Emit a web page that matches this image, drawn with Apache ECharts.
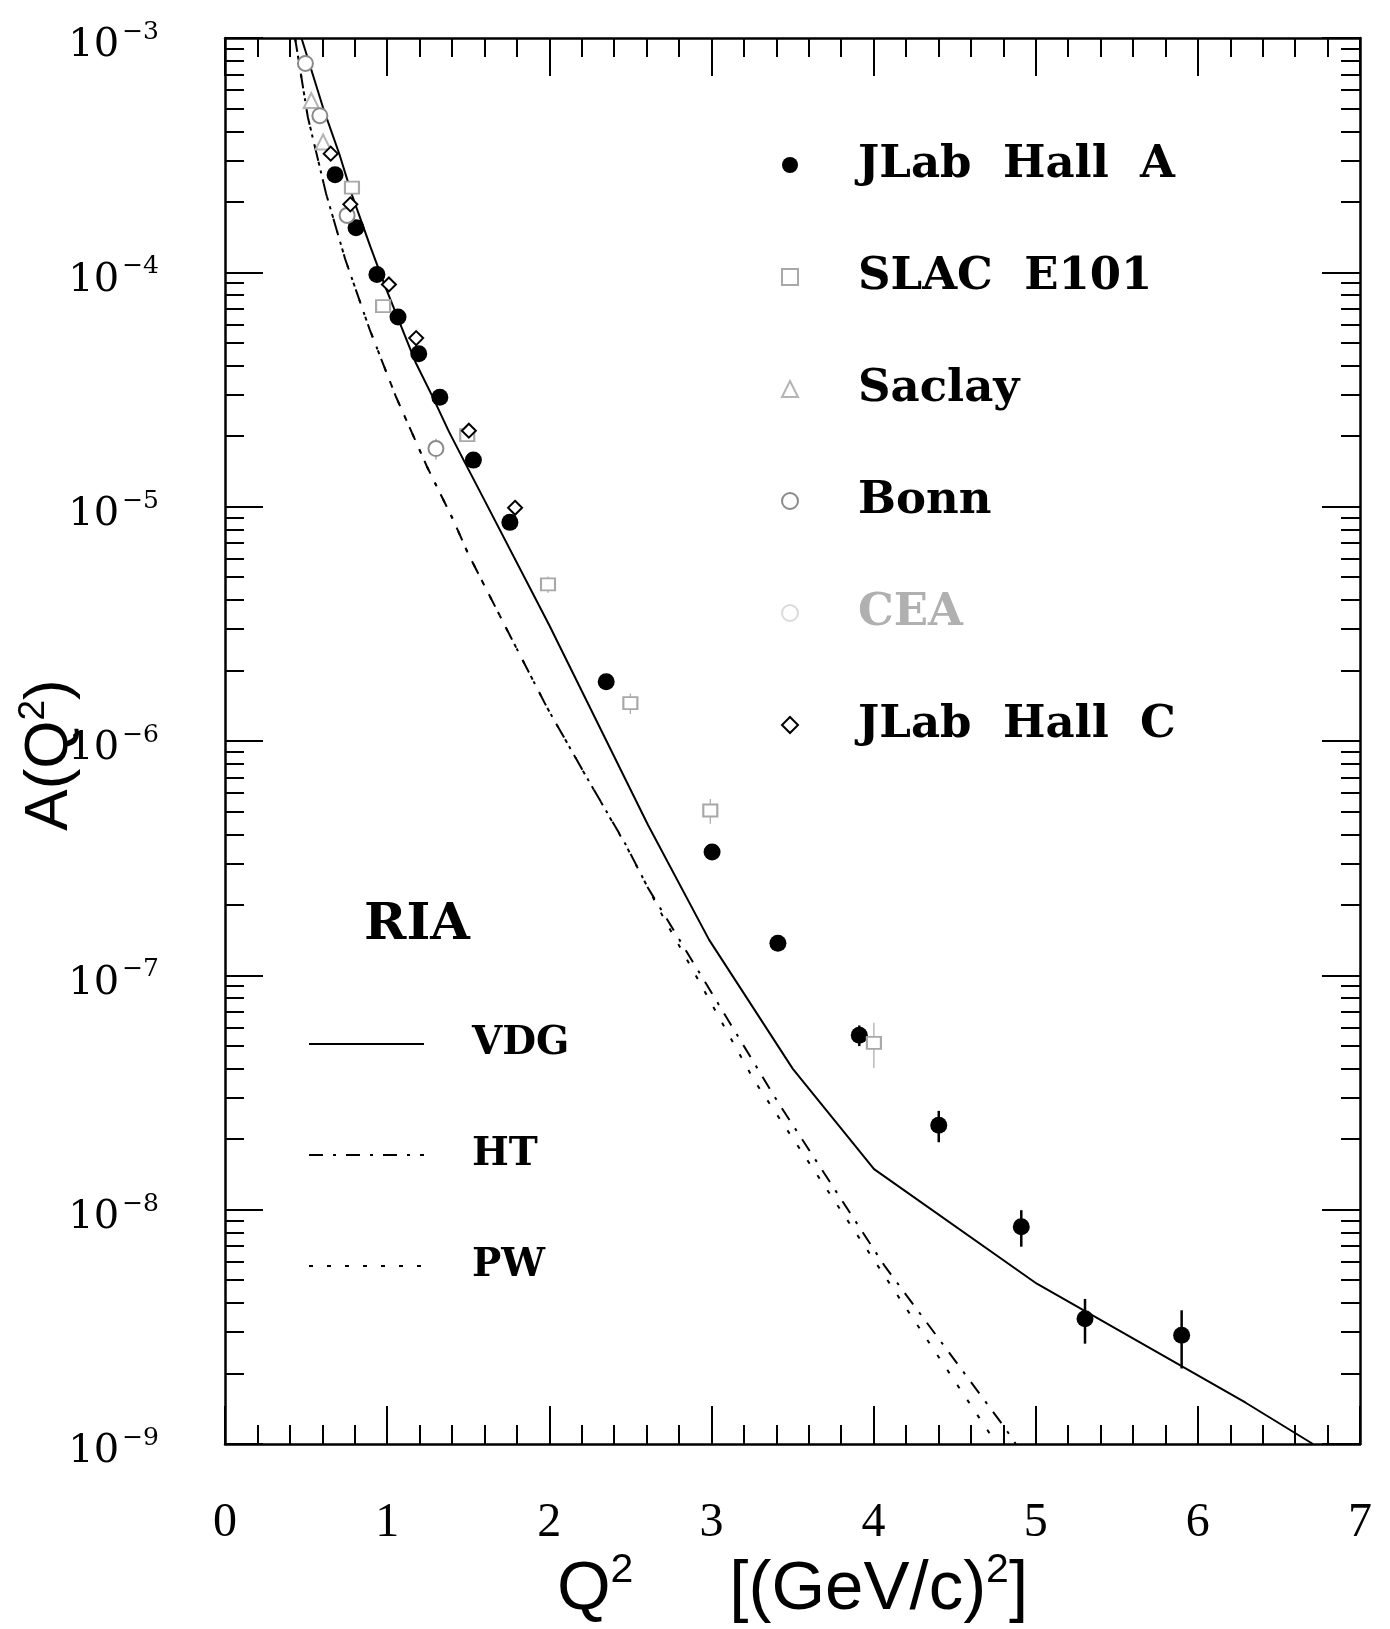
<!DOCTYPE html>
<html>
<head>
<meta charset="utf-8">
<title>Deuteron structure function A(Q²)</title>
<script src="https://cdn.jsdelivr.net/npm/echarts@6/dist/echarts.min.js"></script>
<style>
  html, body { margin: 0; padding: 0; background: #fff; }
  #chart { width: 1390px; height: 1629px; }
</style>
</head>
<body>
<div id="chart"></div>
<script>
// ---------- measurements: Q² in (GeV/c)², A(Q²) and its uncertainty ----------
const hallAQ2  = [0.679, 0.808, 0.937, 1.067, 1.195, 1.325, 1.532, 1.757, 2.351, 3.004, 3.410, 3.912, 4.402, 4.911, 5.304, 5.900];
const hallAVal = [2.61e-4, 1.55e-4, 9.8e-5, 6.45e-5, 4.49e-5, 2.93e-5, 1.58e-5, 8.57e-6, 1.79e-6, 3.36e-7, 1.37e-7, 5.55e-8, 2.29e-8, 8.45e-9, 3.42e-9, 2.91e-9];
const hallAErr = [7.8e-6, 4.7e-6, 2.9e-6, 1.9e-6, 1.3e-6, 8.8e-7, 4.7e-7, 2.6e-7, 7.2e-8, 1.7e-8, 8.2e-9, 5.6e-9, 3.5e-9, 1.5e-9, 7.4e-10, 8.1e-10];

const slacQ2  = [0.783, 0.975, 1.494, 1.992, 2.500, 2.993, 4.002];
const slacVal = [2.30e-4, 7.17e-5, 2.02e-5, 4.66e-6, 1.45e-6, 5.05e-7, 5.15e-8];
const slacErr = [1.2e-5, 3.6e-6, 1.2e-6, 3.7e-7, 1.45e-7, 6.1e-8, 1.13e-8];

const saclayQ2  = [0.532, 0.605];
const saclayVal = [5.41e-4, 3.60e-4];

const bonnQ2  = [0.496, 0.585, 0.753, 1.301];
const bonnVal = [7.79e-4, 4.66e-4, 1.75e-4, 1.77e-5];
const bonnErr = [2.3e-5, 1.4e-5, 6.0e-6, 1.8e-6];

const ceaQ2  = [];
const ceaVal = [];

const hallCQ2  = [0.652, 0.773, 1.011, 1.179, 1.504, 1.789];
const hallCVal = [3.21e-4, 1.95e-4, 8.88e-5, 5.24e-5, 2.11e-5, 9.89e-6];
const hallCErr = [2.2e-5, 1.4e-5, 6.2e-6, 3.7e-6, 1.5e-6, 6.9e-7];

// ---------- RIA model curves ----------
const vdgQ2 = [0.473, 0.604, 0.705, 0.785, 0.896, 0.987, 1.078, 1.178, 1.280, 1.381, 1.482, 1.584, 2.000, 2.609, 2.985, 3.502, 4.003, 5.007, 6.295, 6.710];
const vdgA  = [9.93e-4, 5.06e-4, 3.20e-4, 2.12e-4, 1.29e-4, 8.73e-5, 6.08e-5, 4.09e-5, 2.95e-5, 2.09e-5, 1.53e-5, 1.12e-5, 3.12e-6, 4.38e-7, 1.42e-7, 3.99e-8, 1.49e-8, 4.83e-9, 1.50e-9, 1.0e-9];

const htQ2 = [0.432, 0.511, 0.624, 0.741, 0.892, 1.053, 1.246, 1.408, 1.499, 1.763, 1.986, 2.209, 2.473, 2.609, 3.408, 4.067, 4.807, 4.877];
const htA  = [1.0e-3, 4.59e-4, 2.16e-4, 1.14e-4, 5.71e-5, 2.96e-5, 1.48e-5, 8.77e-6, 6.31e-6, 2.77e-6, 1.39e-6, 7.43e-7, 3.60e-7, 2.36e-7, 2.89e-8, 5.77e-9, 1.18e-9, 1.0e-9];

const pwQ2 = [0.432, 0.511, 0.624, 0.741, 0.892, 1.053, 1.246, 1.408, 1.499, 1.763, 1.986, 2.209, 2.473, 2.703, 3.267, 4.701, 4.760];
const pwA  = [1.0e-3, 4.59e-4, 2.16e-4, 1.14e-4, 5.71e-5, 2.96e-5, 1.48e-5, 8.77e-6, 6.31e-6, 2.77e-6, 1.39e-6, 7.43e-7, 3.58e-7, 1.77e-7, 3.53e-8, 1.15e-9, 1.0e-9];

// ---------- axis ticks and labels ----------
const xTickLabels   = ['0', '1', '2', '3', '4', '5', '6', '7'];
const yMajorTicks   = [1e-9, 1e-8, 1e-7, 1e-6, 1e-5, 1e-4, 1e-3];
const yTickExponent = ['\u22129', '\u22128', '\u22127', '\u22126', '\u22125', '\u22124', '\u22123'];
const yMinorMult    = [2, 3, 4, 5, 6, 7, 8, 9];
const yMinorTicks   = [];
yMajorTicks.slice(0, -1).forEach(d => yMinorMult.forEach(m => yMinorTicks.push(m * d)));

const legendDataNames  = ['JLab Hall A', 'SLAC E101', 'Saclay', 'Bonn', 'CEA', 'JLab Hall C'];
const legendModelNames = ['VDG', 'HT', 'PW'];

// ---------- helpers ----------
const pairs = (xs, ys) => xs.map((x, i) => [x, ys[i]]);

function errorBars(name, xs, ys, es, color, width) {
  return {
    type: 'custom',
    name: name,
    silent: true,
    z: 3,
    xAxisIndex: 0,
    yAxisIndex: 0,
    data: xs.map((x, i) => [x, ys[i] - es[i], ys[i] + es[i]]),
    encode: { x: 0, y: [1, 2] },
    renderItem: function (params, api) {
      const lo = api.coord([api.value(0), api.value(1)]);
      const hi = api.coord([api.value(0), api.value(2)]);
      return {
        type: 'line',
        shape: { x1: lo[0], y1: lo[1], x2: hi[0], y2: hi[1] },
        style: { stroke: color, lineWidth: width }
      };
    }
  };
}

const frameLine = { color: '#000', width: 2.5 };
const tickLine  = { color: '#000', width: 2 };
const serif = 'DejaVu Serif';

function xAxisDef(pos, withLabels) {
  const ax = {
    type: 'value', min: 0, max: 7, interval: 1, position: pos,
    axisLine: { show: true, onZero: false, lineStyle: frameLine },
    axisTick: { show: true, inside: true, length: 38, lineStyle: tickLine },
    minorTick: { show: true, splitNumber: 5, length: 19, lineStyle: tickLine },
    splitLine: { show: false },
    minorSplitLine: { show: false },
    axisLabel: { show: false }
  };
  if (withLabels) {
    ax.axisLabel = {
      show: true, margin: 55, color: '#000',
      fontFamily: 'Liberation Serif', fontSize: 48,
      formatter: v => xTickLabels[Math.round(v)]
    };
    ax.name = '{a|Q}{s|2}{a|     [(GeV/c)}{s|2}{a|]}';
    ax.nameLocation = 'middle';
    ax.nameGap = 106;
    ax.nameMoveOverlap = false;
    ax.nameTextStyle = {
      rich: {
        a: { fontFamily: 'Liberation Sans', fontSize: 69, color: '#000', lineHeight: 80 },
        s: { fontFamily: 'Liberation Sans', fontSize: 41, color: '#000', lineHeight: 16, verticalAlign: 'top' }
      }
    };
  }
  return ax;
}

function yAxisDef(pos, ticks, len, showLine, withLabels) {
  const ax = {
    type: 'log', logBase: 10, min: 1e-9, max: 1e-3, position: pos,
    axisLine: { show: showLine, onZero: false, lineStyle: frameLine },
    axisTick: { show: true, inside: true, length: len, lineStyle: tickLine, customValues: ticks },
    splitLine: { show: false },
    axisLabel: { show: false }
  };
  if (withLabels) {
    ax.axisLabel = {
      show: true, margin: 66, customValues: yMajorTicks,
      padding: [16, 0, 0, 0],
      formatter: function (v) {
        let k = 0, best = Infinity;
        yMajorTicks.forEach((t, i) => {
          const d = Math.abs(Math.log10(t) - Math.log10(v));
          if (d < best) { best = d; k = i; }
        });
        return '{b|10}{s|' + yTickExponent[k] + '}';
      },
      rich: {
        b: { fontFamily: serif, fontSize: 40, color: '#000', lineHeight: 52 },
        s: { fontFamily: serif, fontSize: 25, color: '#000', lineHeight: 10, verticalAlign: 'top', padding: [0, 0, 0, 3] }
      }
    };
    ax.name = '{a|A(Q}{s|2}{a|)}';
    ax.nameLocation = 'middle';
    ax.nameRotate = 90;
    ax.nameGap = 140;
    ax.nameMoveOverlap = false;
    ax.nameTextStyle = {
      padding: [0, 28, 0, 0],
      rich: {
        a: { fontFamily: 'Liberation Sans', fontSize: 62, color: '#000', lineHeight: 70 },
        s: { fontFamily: 'Liberation Sans', fontSize: 37, color: '#000', lineHeight: 16, verticalAlign: 'top' }
      }
    };
  }
  return ax;
}

const chart = echarts.init(document.getElementById('chart'), null, { renderer: 'canvas' });

chart.setOption({
  backgroundColor: '#fff',
  animation: false,
  grid: { left: 225, top: 38, width: 1135, height: 1406, containLabel: false, outerBoundsMode: 'none' },
  title: [{
    text: 'RIA', left: 364, top: 900, padding: 0,
    textStyle: { fontFamily: serif, fontWeight: 'bold', fontSize: 51, color: '#000' }
  }],
  legend: [
    {
      data: legendDataNames.map(n => n === 'CEA'
        ? { name: n, textStyle: { color: '#b0b0b0' } }
        : { name: n }),
      orient: 'vertical', left: 776, top: 134,
      itemWidth: 16, itemHeight: 16, itemGap: 60,
      selectedMode: false,
      textStyle: {
        fontFamily: serif, fontWeight: 'bold', fontSize: 45, color: '#000',
        lineHeight: 52, padding: [0, 0, 0, 55]
      },
      formatter: n => n.replace(/ /g, '  ')
    },
    {
      data: legendModelNames,
      orient: 'vertical', left: 303, top: 1016,
      itemWidth: 115, itemHeight: 14, itemGap: 65,
      selectedMode: false,
      itemStyle: { opacity: 0, borderWidth: 0 },
      textStyle: {
        fontFamily: serif, fontWeight: 'bold', fontSize: 39, color: '#000',
        lineHeight: 46, padding: [0, 0, 0, 43]
      }
    }
  ],
  xAxis: [xAxisDef('bottom', true), xAxisDef('top', false)],
  yAxis: [
    yAxisDef('left', yMajorTicks, 38, true, true),
    yAxisDef('left', yMinorTicks, 19, false, false),
    yAxisDef('right', yMajorTicks, 38, true, false),
    yAxisDef('right', yMinorTicks, 19, false, false)
  ],
  series: [
    {
      name: 'VDG', type: 'line', data: pairs(vdgQ2, vdgA),
      symbol: 'none', z: 2, clip: true,
      lineStyle: { color: '#000', width: 2, type: 'solid' }, itemStyle: { color: '#000' }
    },
    {
      name: 'HT', type: 'line', data: pairs(htQ2, htA),
      symbol: 'none', z: 2, clip: true,
      lineStyle: { color: '#000', width: 2, type: [14, 10, 3, 10] }, itemStyle: { color: '#000' }
    },
    {
      name: 'PW', type: 'line', data: pairs(pwQ2, pwA),
      symbol: 'none', z: 2, clip: true,
      lineStyle: { color: '#000', width: 2, type: [4, 14] }, itemStyle: { color: '#000' }
    },
    errorBars('JLab Hall A error', hallAQ2, hallAVal, hallAErr, '#000', 2.5),
    errorBars('SLAC E101 error', slacQ2, slacVal, slacErr, '#a8a8a8', 1.2),
    errorBars('Bonn error', bonnQ2, bonnVal, bonnErr, '#909090', 1.2),
    errorBars('JLab Hall C error', hallCQ2, hallCVal, hallCErr, '#000', 1.5),
    {
      name: 'JLab Hall A', type: 'scatter', data: pairs(hallAQ2, hallAVal),
      symbol: 'circle', symbolSize: 17, z: 4,
      itemStyle: { color: '#000', opacity: 1 }
    },
    {
      name: 'SLAC E101', type: 'scatter', data: pairs(slacQ2, slacVal),
      symbol: 'emptyRect', symbolSize: [14, 12], z: 4,
      itemStyle: { color: '#a8a8a8', borderWidth: 1.2, opacity: 1 }
    },
    {
      name: 'Saclay', type: 'scatter', data: pairs(saclayQ2, saclayVal),
      symbol: 'emptyTriangle', symbolSize: 15, z: 4,
      itemStyle: { color: '#b4b4b4', borderWidth: 1.2, opacity: 1 }
    },
    {
      name: 'Bonn', type: 'scatter', data: pairs(bonnQ2, bonnVal),
      symbol: 'emptyCircle', symbolSize: 15, z: 4,
      itemStyle: { color: '#8a8a8a', borderWidth: 1.2, opacity: 1 }
    },
    {
      name: 'CEA', type: 'scatter', data: pairs(ceaQ2, ceaVal),
      symbol: 'emptyCircle', symbolSize: 14, z: 4,
      itemStyle: { color: '#dadada', borderWidth: 1, opacity: 1 }
    },
    {
      name: 'JLab Hall C', type: 'scatter', data: pairs(hallCQ2, hallCVal),
      symbol: 'emptyDiamond', symbolSize: 14, z: 4,
      itemStyle: { color: '#000', borderWidth: 1.5, opacity: 1 }
    }
  ]
});
</script>
</body>
</html>
